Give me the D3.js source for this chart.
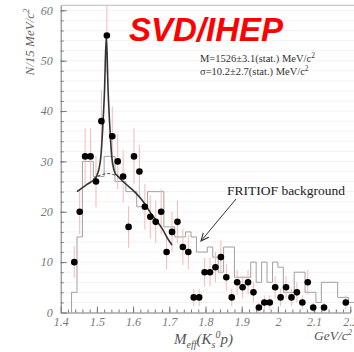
<!DOCTYPE html>
<html>
<head>
<meta charset="utf-8">
<script src="https://cdn.jsdelivr.net/npm/d3@7"></script>
<style>
  body { margin: 0; background: #fff; }
  svg { display: block; }
  .tick text { font-family: "Liberation Serif", serif; font-style: italic; fill: #777; font-size: 12px; }
  .axis path, .axis line { stroke: #777; }
</style>
</head>
<body>
<div id="chart"></div>
<script>
// measured points (bin centre, entries per 15 MeV)
const dataMass = [1.4375, 1.4525, 1.4675, 1.4825, 1.4975, 1.5125, 1.5275, 1.5425, 1.5575, 1.5725,
    1.5875, 1.6025, 1.6175, 1.6325, 1.6475, 1.6625, 1.6775, 1.6925, 1.7075, 1.7225,
    1.7375, 1.7525, 1.7675, 1.7825, 1.7975, 1.8125, 1.8275, 1.8425, 1.8575, 1.8725,
    1.8875, 1.9025, 1.9175, 1.9325, 1.9475, 1.9625, 1.9775, 1.9925, 2.0075, 2.0225,
    2.0375, 2.0525, 2.0675, 2.0825, 2.0975, 2.1275, 2.1875];
const dataCount = [10, 20, 31, 31, 26, 38, 55, 35, 30, 27,
    17, 31, 28, 21, 19, 18, 20, 12, 16, 18,
    13, 12, 3, 3, 8, 8, 9, 11, 7, 3,
    6, 5, 6, 4, 1, 2, 2, 5, 3, 5,
    3, 4, 2, 6, 1, 1, 2];

// FRITIOF background histogram, bins of 15 MeV starting at 1.43
const bgStart = 1.43;
const bgWidth = 0.015;
const bgCounts = [4, 15, 30, 30, 27, 27, 31, 31, 26, 26,
    24, 24, 21, 21, 24, 24, 24, 17, 17, 15,
    15, 16, 15, 12, 12, 13, 11, 8, 13, 13,
    7, 7, 7, 10, 6, 10, 6, 10, 9, 4,
    4, 8, 8, 4, 4, 2, 6, 6, 6, 3,
    3, 2, 2];

// fit curve (signal + background)
const fitMass = [1.445, 1.46, 1.472, 1.485, 1.496, 1.501, 1.506, 1.511, 1.516, 1.521, 1.526,
    1.531, 1.536, 1.541, 1.546, 1.551, 1.556, 1.565, 1.588, 1.605, 1.625, 1.652, 1.68, 1.698, 1.7075];
const fitCount = [24.0, 24.8, 25.4, 26.0, 26.6, 27.4, 28.6, 31.0, 36.5, 44.0, 55,
    44.0, 36.5, 31.0, 28.6, 27.6, 27.2, 26.5, 25.0, 23.9, 22.3, 19.4, 16.7, 14.4, 13.4];

// background part of the fit under the peak (dashed)
const bgFitMass = [1.49, 1.50, 1.515, 1.53, 1.545, 1.56];
const bgFitCount = [26.6, 27.0, 27.4, 27.6, 27.4, 27.0];

const yTicks = [0, 10, 20, 30, 40, 50, 60];
const xTicks = [1.4, 1.5, 1.6, 1.7, 1.8, 1.9, 2.0, 2.1, 2.2];

const W = 354, H = 352;

const svg = d3.select("#chart").append("svg")
    .attr("width", W)
    .attr("height", H);

const x = d3.scaleLinear().domain([1.4, 2.2]).range([60.7, 350.3]);
const y = d3.scaleLinear().domain([0, 61]).range([312.5, 5.3]);

// faint grid
svg.append("g")
    .selectAll("line")
    .data(d3.range(2, 61, 2))
    .enter().append("line")
    .attr("x1", x(1.4)).attr("x2", W)
    .attr("y1", d => y(d)).attr("y2", d => y(d))
    .attr("stroke", "#f3f3f3");

// top frame
svg.append("line")
    .attr("x1", x(1.4)).attr("x2", W)
    .attr("y1", y(61)).attr("y2", y(61))
    .attr("stroke", "#bbb");

// axes
svg.append("g")
    .attr("class", "axis")
    .attr("transform", `translate(${x(1.4)},0)`)
    .call(d3.axisLeft(y).tickValues(yTicks).tickSizeInner(-6).tickSizeOuter(0).tickPadding(8));

svg.append("g")
    .attr("class", "axis")
    .attr("transform", `translate(${x(1.4)},0)`)
    .call(d3.axisLeft(y).tickValues(d3.range(2, 61, 2)).tickSize(-3).tickFormat(""))
    .select(".domain").remove();

svg.append("g")
    .attr("class", "axis")
    .attr("transform", `translate(0,${y(0)})`)
    .call(d3.axisBottom(x).tickValues(xTicks).tickSizeInner(-6).tickSizeOuter(0).tickPadding(5)
        .tickFormat(d3.format("~g")));

svg.append("g")
    .attr("class", "axis")
    .attr("transform", `translate(0,${y(0)})`)
    .call(d3.axisBottom(x).tickValues(d3.range(1.42, 2.21, 0.02)).tickSize(-3).tickFormat(""))
    .select(".domain").remove();

// background histogram (step line)
let histPts = [[bgStart, 0]];
bgCounts.forEach((c, i) => {
    histPts.push([bgStart + i * bgWidth, c]);
    histPts.push([bgStart + (i + 1) * bgWidth, c]);
});
svg.append("path")
    .datum(histPts)
    .attr("fill", "none")
    .attr("stroke", "#a0a0a0")
    .attr("stroke-width", 1)
    .attr("d", d3.line().x(d => x(d[0])).y(d => y(d[1])));

// error bars
svg.append("g")
    .selectAll("line")
    .data(dataMass)
    .enter().append("line")
    .attr("x1", d => x(d)).attr("x2", d => x(d))
    .attr("y1", (d, i) => y(Math.min(61, dataCount[i] + Math.sqrt(dataCount[i]))))
    .attr("y2", (d, i) => y(dataCount[i] - Math.sqrt(dataCount[i])))
    .attr("stroke", "#f7b8b8")
    .attr("stroke-width", 1);

// dashed background under peak
svg.append("path")
    .datum(bgFitMass.map((m, i) => [m, bgFitCount[i]]))
    .attr("fill", "none")
    .attr("stroke", "#444")
    .attr("stroke-width", 1)
    .attr("stroke-dasharray", "3,2")
    .attr("d", d3.line().x(d => x(d[0])).y(d => y(d[1])).curve(d3.curveMonotoneX));

// fit curve
svg.append("path")
    .datum(fitMass.map((m, i) => [m, fitCount[i]]))
    .attr("fill", "none")
    .attr("stroke", "#333")
    .attr("stroke-width", 1.6)
    .attr("d", d3.line().x(d => x(d[0])).y(d => y(d[1])).curve(d3.curveMonotoneX));

// points
svg.append("g")
    .selectAll("circle")
    .data(dataMass)
    .enter().append("circle")
    .attr("cx", d => x(d))
    .attr("cy", (d, i) => y(dataCount[i]))
    .attr("r", 3.3)
    .attr("fill", "#000");

// title
svg.append("text")
    .attr("x", 129)
    .attr("y", 41)
    .attr("font-family", "Liberation Sans, Arial, sans-serif")
    .attr("font-weight", "bold")
    .attr("font-style", "italic")
    .attr("font-size", 33)
    .attr("fill", "#f00")
    .text("SVD/IHEP");

// fit results
const serif = "Liberation Serif, serif";
let t1 = svg.append("text")
    .attr("x", 200).attr("y", 62)
    .attr("font-family", serif).attr("font-size", 10.5).attr("fill", "#333");
t1.append("tspan").text("M=1526±3.1(stat.) MeV/c");
t1.append("tspan").attr("dy", -4).attr("font-size", 7.5).text("2");

let t2 = svg.append("text")
    .attr("x", 200).attr("y", 75)
    .attr("font-family", serif).attr("font-size", 10.5).attr("fill", "#333");
t2.append("tspan").text("σ=10.2±2.7(stat.) MeV/c");
t2.append("tspan").attr("dy", -4).attr("font-size", 7.5).text("2");

// FRITIOF label + arrow
svg.append("text")
    .attr("x", 227).attr("y", 195)
    .attr("font-family", serif).attr("font-size", 13.5).attr("fill", "#222")
    .text("FRITIOF background");

svg.append("defs").append("marker")
    .attr("id", "head")
    .attr("viewBox", "0 0 10 10")
    .attr("refX", 9).attr("refY", 5)
    .attr("markerWidth", 9).attr("markerHeight", 9)
    .attr("orient", "auto")
    .append("path")
    .attr("d", "M0,1 L9,5 L0,9")
    .attr("fill", "none")
    .attr("stroke", "#333")
    .attr("stroke-width", 1.2);

svg.append("line")
    .attr("x1", 236).attr("y1", 199)
    .attr("x2", 201).attr("y2", 241)
    .attr("stroke", "#333")
    .attr("stroke-width", 1)
    .attr("marker-end", "url(#head)");

// y axis title
let yt = svg.append("text")
    .attr("transform", "translate(34,42) rotate(-90)")
    .attr("text-anchor", "middle")
    .attr("font-family", serif).attr("font-style", "italic")
    .attr("font-size", 13).attr("fill", "#666");
yt.append("tspan").text("N/15 MeV/c");
yt.append("tspan").attr("dy", -5).attr("font-size", 9).text("2");

// x axis title
let xt = svg.append("text")
    .attr("x", 174).attr("y", 344)
    .attr("font-family", serif).attr("font-style", "italic")
    .attr("font-size", 15).attr("fill", "#555");
xt.append("tspan").text("M");
xt.append("tspan").attr("dy", 3.5).attr("font-size", 10).text("eff");
xt.append("tspan").attr("dy", -3.5).text("(K");
xt.append("tspan").attr("dy", 3.5).attr("font-size", 10).text("s");
xt.append("tspan").attr("dy", -9.5).attr("font-size", 10).text("0");
xt.append("tspan").attr("dy", 6).text("p)");

let gu = svg.append("text")
    .attr("x", 314).attr("y", 340)
    .attr("font-family", serif).attr("font-style", "italic")
    .attr("font-size", 13.5).attr("fill", "#555");
gu.append("tspan").text("GeV/c");
gu.append("tspan").attr("dy", -5).attr("font-size", 8.5).text("2");
</script>
</body>
</html>
